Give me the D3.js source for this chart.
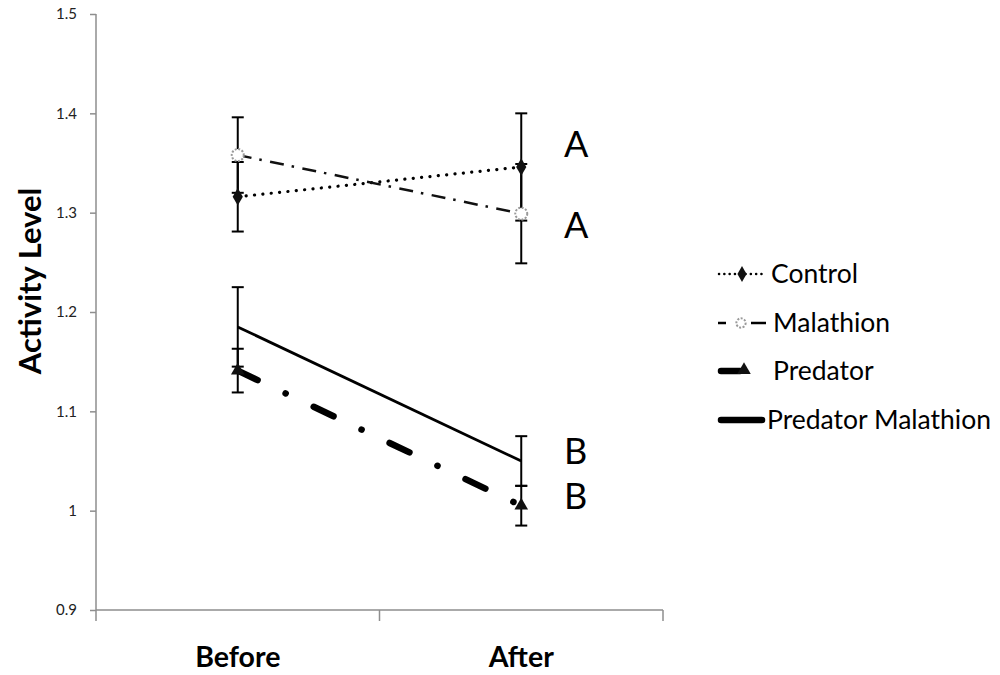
<!DOCTYPE html>
<html><head><meta charset="utf-8">
<script src="https://cdn.jsdelivr.net/npm/d3@7"></script>
<style>
html,body{margin:0;padding:0;background:#fff;}
text{font-family:Lato,"Open Sans",sans-serif;}
</style></head>
<body><svg id="c" width="1000" height="675"></svg>
<script>
const categories = ["Before","After"];
const seriesNames = ["Control","Malathion","Predator","Predator Malathion"];
const controlVals = [1.316, 1.346];
const controlErr = [0.035, 0.054];
const malathionVals = [1.358, 1.299];
const malathionErr = [0.038, 0.050];
const predatorVals = [1.141, 1.005];
const predatorErr = [0.022, 0.020];
const predMalVals = [1.185, 1.050];
const predMalErr = [0.040, 0.025];
const yTicks = [0.9, 1.0, 1.1, 1.2, 1.3, 1.4, 1.5];
const yTickLabels = ["0.9","1","1.1","1.2","1.3","1.4","1.5"];
const sigLetters = ["A","A","B","B"];
const sigValues = [1.369, 1.288, 1.060, 1.015];

const svg = d3.select("#c");
const x = d3.scaleBand().domain(categories).range([96, 663]);
const y = d3.scaleLinear().domain([0.9, 1.5]).range([610, 14]);
const cx = c => x(c) + x.bandwidth()/2;
const axisColor = "#8e8e8e";

// Y axis
const yAxis = d3.axisLeft(y).tickValues(yTicks).tickSize(6).tickPadding(13)
  .tickFormat((d,i)=>yTickLabels[i]);
const gy = svg.append("g").attr("transform","translate(96,0)").call(yAxis);
gy.select(".domain").attr("stroke",axisColor).attr("stroke-width",1.5).attr("d","M0,14V610");
gy.selectAll(".tick line").attr("stroke",axisColor).attr("stroke-width",1.5);
gy.selectAll(".tick text").attr("font-size",15).attr("fill","#222").attr("font-family","Lato,sans-serif");

// X axis
const gx = svg.append("g").attr("transform","translate(0,610)");
gx.append("line").attr("x1",96).attr("x2",663).attr("y1",0).attr("y2",0).attr("stroke",axisColor).attr("stroke-width",1.5);
const xb = [96, 96 + x.bandwidth(), 663];
gx.selectAll("line.t").data(xb).join("line").attr("class","t")
  .attr("x1",d=>d).attr("x2",d=>d).attr("y1",0).attr("y2",11).attr("stroke",axisColor).attr("stroke-width",1.5);
gx.selectAll("text").data(categories).join("text")
  .attr("x",d=>cx(d)).attr("y",57).attr("text-anchor","middle")
  .attr("font-size",28.5).attr("font-weight","bold").text(d=>d);

// Y label
svg.append("text").attr("transform","translate(41,281) rotate(-90)")
  .attr("text-anchor","middle").attr("font-size",31).attr("font-weight","bold").text("Activity Level");

const series = [
  {name:seriesNames[0], vals:controlVals, err:controlErr},
  {name:seriesNames[1], vals:malathionVals, err:malathionErr},
  {name:seriesNames[2], vals:predatorVals, err:predatorErr},
  {name:seriesNames[3], vals:predMalVals, err:predMalErr}
];

// Error bars
const eb = svg.append("g");
series.forEach(s=>{
  categories.forEach((c,i)=>{
    const xc = cx(c), lo = y(s.vals[i]-s.err[i]), hi = y(s.vals[i]+s.err[i]);
    eb.append("line").attr("x1",xc).attr("x2",xc).attr("y1",lo).attr("y2",hi).attr("stroke","#000").attr("stroke-width",2);
    [lo,hi].forEach(yy=>eb.append("line").attr("x1",xc-6).attr("x2",xc+6).attr("y1",yy).attr("y2",yy).attr("stroke","#000").attr("stroke-width",2));
  });
});

const line = d3.line().x((d,i)=>cx(categories[i])).y(d=>y(d));
const styles = {
  "Control": {w:3.2, dash:"0.1,8.3", cap:"round", color:"#000"},
  "Malathion": {w:2.5, dash:"14,8,2.5,8.5", cap:"butt", color:"#111"},
  "Predator": {w:6.5, dash:"22,31,0.1,31", cap:"round", color:"#000"},
  "Predator Malathion": {w:2.8, dash:null, cap:"butt", color:"#000"}
};
series.forEach(s=>{
  const st = styles[s.name];
  svg.append("path").attr("d",line(s.vals)).attr("fill","none").attr("stroke",st.color)
    .attr("stroke-width",st.w).attr("stroke-dasharray",st.dash).attr("stroke-linecap",st.cap);
});

// Markers
function marker(g, name, xx, yy, scale){
  scale = scale||1;
  if(name==="Control"){
    g.append("path").attr("d",d3.symbol(d3.symbolDiamond, 90*scale)()).attr("transform",`translate(${xx},${yy})`).attr("fill","#111");
  } else if(name==="Malathion"){
    g.append("circle").attr("cx",xx).attr("cy",yy).attr("r",6*Math.sqrt(scale)).attr("fill","#fff")
      .attr("stroke","#9a9a9a").attr("stroke-width",2).attr("stroke-dasharray","2,1.5");
  } else if(name==="Predator"){
    g.append("path").attr("d",d3.symbol(d3.symbolTriangle, 80*scale)()).attr("transform",`translate(${xx},${yy})`).attr("fill","#111");
  }
}
const mg = svg.append("g");
series.forEach(s=>categories.forEach((c,i)=>marker(mg, s.name, cx(c), y(s.vals[i]))));

// significance letters
svg.append("g").selectAll("text").data(sigLetters).join("text")
  .attr("x",564).attr("y",(d,i)=>y(sigValues[i])).attr("dy","0.36em")
  .attr("font-size",36).text(d=>d);

// Legend
const lg = svg.append("g");
const legY = [274, 323, 371, 420];
series.forEach((s,i)=>{
  const yy = legY[i];
  if(s.name==="Control"){
    lg.append("line").attr("x1",719).attr("x2",765).attr("y1",yy).attr("y2",yy).attr("stroke","#000")
      .attr("stroke-width",2.5).attr("stroke-dasharray","0.1,5.2").attr("stroke-linecap","round");
    marker(lg, s.name, 742, yy, 0.8);
  } else if(s.name==="Malathion"){
    lg.append("line").attr("x1",718).attr("x2",726).attr("y1",yy).attr("y2",yy).attr("stroke","#000").attr("stroke-width",2.5);
    lg.append("line").attr("x1",751).attr("x2",766).attr("y1",yy).attr("y2",yy).attr("stroke","#000").attr("stroke-width",2.5);
    marker(lg, s.name, 741, yy, 0.6);
  } else if(s.name==="Predator"){
    lg.append("line").attr("x1",721).attr("x2",740).attr("y1",yy).attr("y2",yy).attr("stroke","#000")
      .attr("stroke-width",6.5).attr("stroke-linecap","round");
    marker(lg, s.name, 744, yy-1, 1);
  } else {
    lg.append("line").attr("x1",721).attr("x2",762).attr("y1",yy).attr("y2",yy).attr("stroke","#000")
      .attr("stroke-width",6.5).attr("stroke-linecap","round");
  }
  lg.append("text").attr("x", i===3?767:(i===0?771:773)).attr("y",yy).attr("dy","0.35em")
    .attr("font-size",26.5).text(s.name);
});
</script></body></html>
